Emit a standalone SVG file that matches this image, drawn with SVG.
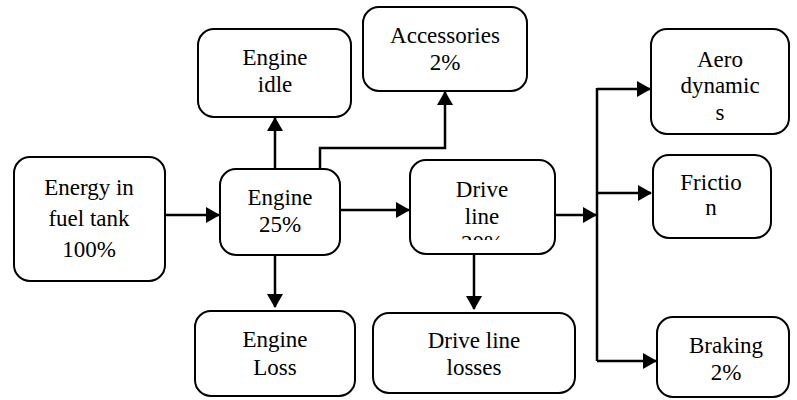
<svg xmlns="http://www.w3.org/2000/svg" width="797" height="400" viewBox="0 0 797 400">
<style>
.box{fill:#fff;stroke:#000;stroke-width:2}
.c{fill:none;stroke:#000;stroke-width:2.5}
</style>
<defs>
<marker id="ah" viewBox="0 0 14 16" refX="13" refY="8" markerWidth="14" markerHeight="16" markerUnits="userSpaceOnUse" orient="auto">
<path d="M0,0 L14,8 L0,16 z" fill="#000"/>
</marker>
<clipPath id="dlclip"><rect x="410" y="160" width="145" height="80"/></clipPath>
</defs>
<rect width="797" height="400" fill="#fff"/>
<g id="connectors">
<path class="c" d="M165,215 H219" marker-end="url(#ah)"/>
<path class="c" d="M275,169 V118" marker-end="url(#ah)"/>
<path class="c" d="M320,169 V148 H445 V92" marker-end="url(#ah)"/>
<path class="c" d="M340,210 H409" marker-end="url(#ah)"/>
<path class="c" d="M275,255 V307" marker-end="url(#ah)"/>
<path class="c" d="M474,254 V309" marker-end="url(#ah)"/>
<path class="c" d="M555,215 H596" marker-end="url(#ah)"/>
<path class="c" d="M597,88 V361"/>
<path class="c" d="M597,89 H650" marker-end="url(#ah)"/>
<path class="c" d="M597,193 H651" marker-end="url(#ah)"/>
<path class="c" d="M597,361 H656" marker-end="url(#ah)"/>
</g>
<g font-family="Liberation Serif, Times New Roman, serif" font-size="23" text-anchor="middle" fill="#000">
<g id="energy">
<rect class="box" x="14" y="157" width="151" height="124" rx="16"/>
<text x="89" y="195">Energy in</text>
<text x="89" y="226">fuel tank</text>
<text x="89" y="257">100%</text>
</g>
<g id="engine-idle">
<rect class="box" x="198" y="29" width="153" height="88" rx="16"/>
<text x="275" y="65">Engine</text>
<text x="275" y="92">idle</text>
</g>
<g id="accessories">
<rect class="box" x="363" y="7" width="164" height="84" rx="16"/>
<text x="445" y="43">Accessories</text>
<text x="445" y="70">2%</text>
</g>
<g id="engine">
<rect class="box" x="220" y="169" width="120" height="86" rx="16"/>
<text x="280" y="205">Engine</text>
<text x="280" y="232">25%</text>
</g>
<g id="drive-line">
<rect class="box" x="410" y="160" width="145" height="94" rx="16"/>
<text x="482" y="197">Drive</text>
<text x="482" y="224">line</text>
<text x="482" y="251" clip-path="url(#dlclip)">20%</text>
</g>
<g id="engine-loss">
<rect class="box" x="195" y="311" width="160" height="85" rx="16"/>
<text x="275" y="347">Engine</text>
<text x="275" y="375">Loss</text>
</g>
<g id="drive-line-losses">
<rect class="box" x="373" y="313" width="202" height="80" rx="16"/>
<text x="474" y="348">Drive line</text>
<text x="474" y="375">losses</text>
</g>
<g id="aero">
<rect class="box" x="651" y="29" width="138" height="105" rx="16"/>
<text x="720" y="67">Aero</text>
<text x="720" y="93">dynamic</text>
<text x="720" y="120">s</text>
</g>
<g id="friction">
<rect class="box" x="653" y="155" width="118" height="83" rx="16"/>
<text x="711" y="190">Frictio</text>
<text x="711" y="215">n</text>
</g>
<g id="braking">
<rect class="box" x="657" y="317" width="132" height="80" rx="16"/>
<text x="726" y="353">Braking</text>
<text x="726" y="380">2%</text>
</g>
</g>
</svg>
